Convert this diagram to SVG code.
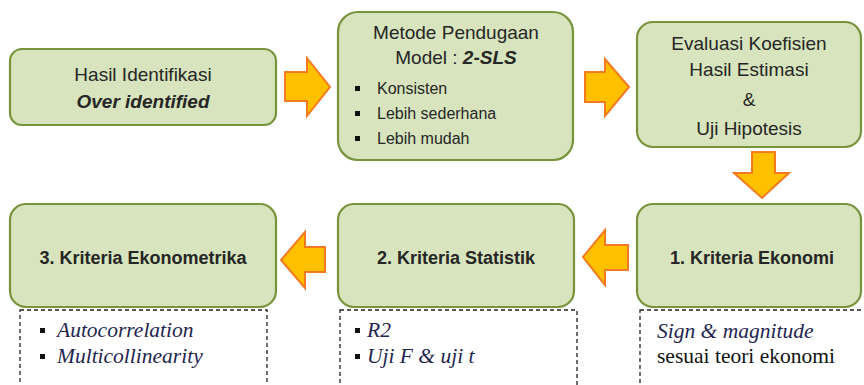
<svg xmlns="http://www.w3.org/2000/svg" width="864" height="385" viewBox="0 0 864 385">
<style>
.box{fill:#d7e4bd;stroke:#77933c;stroke-width:2.2}
.arr{fill:#ffc000;stroke:#f47a20;stroke-width:2;stroke-linejoin:miter}
.dash{fill:none;stroke:#222;stroke-width:1.3;stroke-dasharray:4 3}
.t{font-family:"Liberation Sans",Arial,sans-serif;font-size:19px;fill:#262626;text-anchor:middle}
.b{font-family:"Liberation Sans",Arial,sans-serif;font-size:16px;fill:#262626}
.k{font-family:"Liberation Sans",Arial,sans-serif;font-size:18px;font-weight:bold;fill:#262626;text-anchor:middle}
.s{font-family:"Liberation Serif","Times New Roman",serif;font-size:21.5px;fill:#1f2550;font-style:italic}
.sr{font-family:"Liberation Serif","Times New Roman",serif;font-size:21.5px;fill:#111}
.sq{fill:#111}
</style>
<rect width="864" height="385" fill="#fff"/>
<g id="n1">
<rect class="box" x="10" y="49" width="266" height="76" rx="12"/>
<text class="t" x="143" y="81">Hasil Identifikasi</text>
<text class="t" x="143" y="108" font-weight="bold" font-style="italic" font-size="20px">Over identified</text>
</g>
<g id="n2">
<rect class="box" x="338" y="12" width="235" height="148" rx="20"/>
<text class="t" x="456" y="39">Metode Pendugaan</text>
<text class="t" x="456" y="64">Model : <tspan font-weight="bold" font-style="italic">2-SLS</tspan></text>
<rect class="sq" x="355" y="86" width="5" height="5"/>
<text class="b" x="377" y="94">Konsisten</text>
<rect class="sq" x="355" y="111" width="5" height="5"/>
<text class="b" x="377" y="119">Lebih sederhana</text>
<rect class="sq" x="355" y="136" width="5" height="5"/>
<text class="b" x="377" y="144">Lebih mudah</text>
</g>
<g id="n3">
<rect class="box" x="637" y="22" width="224" height="125" rx="16"/>
<text class="t" x="749" y="50">Evaluasi Koefisien</text>
<text class="t" x="749" y="76">Hasil Estimasi</text>
<text class="t" x="749" y="106">&amp;</text>
<text class="t" x="749" y="135">Uji Hipotesis</text>
</g>
<g id="n4">
<rect class="box" x="637" y="204" width="224" height="103" rx="16"/>
<text class="k" x="752" y="264">1. Kriteria Ekonomi</text>
</g>
<g id="n5">
<rect class="box" x="338" y="204" width="236" height="103" rx="16"/>
<text class="k" x="456" y="264">2. Kriteria Statistik</text>
</g>
<g id="n6">
<rect class="box" x="10" y="204" width="266" height="103" rx="16"/>
<text class="k" x="143" y="264">3. Kriteria Ekonometrika</text>
</g>
<g id="notes">
<rect class="dash" x="20" y="310" width="247" height="90"/>
<rect class="sq" x="40" y="328" width="5" height="5"/>
<text class="s" x="57" y="337">Autocorrelation</text>
<rect class="sq" x="40" y="354" width="5" height="5"/>
<text class="s" x="57" y="363">Multicollinearity</text>
<rect class="dash" x="340" y="310" width="237" height="90"/>
<rect class="sq" x="355" y="328" width="5" height="5"/>
<text class="s" x="367" y="337">R2</text>
<rect class="sq" x="355" y="354" width="5" height="5"/>
<text class="s" x="367" y="363">Uji F &amp; uji t</text>
<rect class="dash" x="640" y="310" width="230" height="90"/>
<text class="s" x="657" y="338">Sign &amp; magnitude</text>
<text class="sr" x="657" y="363">sesuai teori ekonomi</text>
</g>
<g id="connectors">
<polygon class="arr" points="285,72 307,72 307,58 330,87 307,116 307,101 285,101"/>
<polygon class="arr" points="585,72 605,72 605,59 629,87 605,116 605,102 585,102"/>
<polygon class="arr" points="752,152 775,152 775,173 789,173 762,198 734,173 752,173"/>
<polygon class="arr" points="325,247 305,247 305,232 281,260 305,288 305,272 325,272"/>
<polygon class="arr" points="628,245 605,245 605,230 583,257 605,285 605,270 628,270"/>
</g>
</svg>
